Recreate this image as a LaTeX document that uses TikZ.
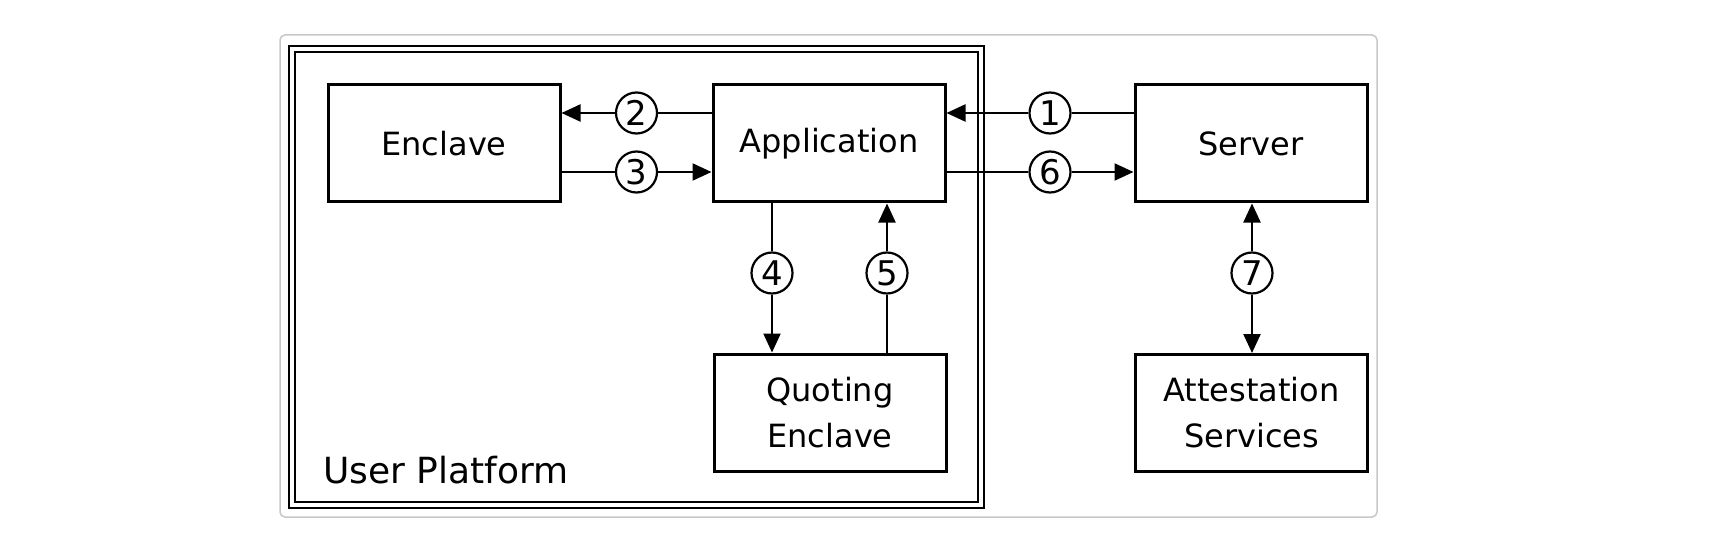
\documentclass[tikz,border=0pt]{standalone}
\usepackage{fontspec}
\setmainfont{DejaVu Sans}
\usetikzlibrary{arrows.meta}
\tikzset{
  box/.style={draw, line width=3pt, minimum width=232pt, minimum height=117pt, inner sep=0pt, align=center, font=\fontsize{32}{46}\selectfont},
  num/.style={draw, circle, line width=2.2pt, minimum size=41pt, inner sep=0pt, fill=white, font=\fontsize{34}{34}\selectfont},
  link/.style={line width=2.2pt},
  arr/.style={line width=2.2pt, -{Triangle[length=19pt,width=17pt]}},
  frame/.style={line width=2.8pt}
}
\begin{document}
\begin{tikzpicture}[x=1pt,y=-1pt]
\useasboundingbox (0,0) rectangle (1710,548);
\fill[white] (0,0) rectangle (1710,548);
% outer gray panel
\draw[line width=1.5pt, draw={rgb,255:red,200;green,200;blue,200}, rounded corners=5pt] (280,35) rectangle (1377,517);
% user platform double frame
\draw[frame] (289,46) rectangle (984,508);
\draw[frame] (295,52) rectangle (978,502);
\node[anchor=base west, font=\fontsize{36}{36}\selectfont, inner sep=0pt] (up) at (323,483) {User Platform};
% boxes
\node[box] (enc) at (444,143.5) {Enclave};
\node[box] (app) at (829,143.5) {Application};
\node[box] (srv) at (1251,143.5) {Server};
\node[box] (qe) at (830,412.5) {Quoting\\Enclave};
\node[box] (att) at (1251.5,413) {Attestation\\Services};
% numbered circles
\node[num] (c1) at (1050,113) {1};
\node[num] (c2) at (636.5,113) {2};
\node[num] (c3) at (636.5,172) {3};
\node[num] (c4) at (772,273) {4};
\node[num] (c5) at (887,273) {5};
\node[num] (c6) at (1050,172) {6};
\node[num] (c7) at (1252,273) {7};
% connectors
\draw[link] (srv.west |- c1) -- (c1);
\draw[arr] (c1) -- (app.east |- c1);
\draw[link] (app.west |- c2) -- (c2);
\draw[arr] (c2) -- (enc.east |- c2);
\draw[link] (enc.east |- c3) -- (c3);
\draw[arr] (c3) -- (app.west |- c3);
\draw[link] (app.east |- c6) -- (c6);
\draw[arr] (c6) -- (srv.west |- c6);
\draw[link] (app.south -| c4) -- (c4);
\draw[arr] (c4) -- (qe.north -| c4);
\draw[link] (qe.north -| c5) -- (c5);
\draw[arr] (c5) -- (app.south -| c5);
\draw[arr] (c7) -- (srv.south -| c7);
\draw[arr] (c7) -- (att.north -| c7);
\end{tikzpicture}
\end{document}
